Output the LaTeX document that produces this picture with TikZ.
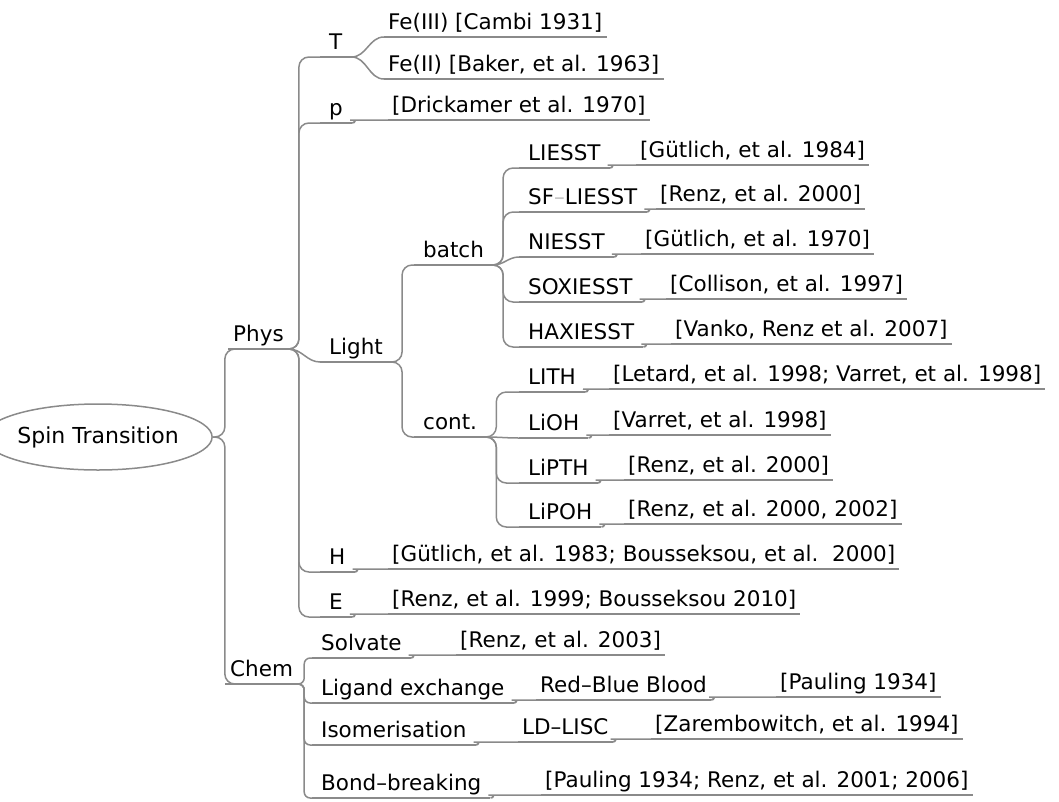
\documentclass[tikz,border=0pt]{standalone}
\usepackage{fontspec}
\setmainfont{DejaVu Sans}
\usepackage{tikz}
\usetikzlibrary{positioning, shapes}
\definecolor{linegray}{HTML}{8A8A8A}
\newcommand{\mapfont}{\fontsize{21.5}{25}\selectfont}

\begin{document}
\begin{tikzpicture}[x=1pt, y=-1pt,
        root/.style={ellipse, draw=linegray, line width=1.5pt, minimum width=180pt, minimum height=66pt, inner sep=0pt, font=\fontsize{22}{25}\selectfont},
        topic/.style={anchor=south west, inner xsep=5pt, inner ysep=1pt, text depth=6pt, font=\mapfont},
        sub/.style={topic, inner xsep=9pt},
        leaf/.style={topic, inner xsep=4pt},
        link/.style={draw=linegray, line width=1.5pt, rounded corners=10pt},
        uline/.style={draw=linegray, line width=1.5pt}
        ]
        \useasboundingbox (0,0) rectangle (1059,801);
        % Nodes
        \node [root] (st) at (98,437) {Spin Transition};
        \node [topic] (phys) at (228,349) {Phys};
        \node [topic] (chem) at (225,684) {Chem};

        \node [sub] (T) at (320,57) {T};
        \node [leaf] (feIII) at (384,37) {Fe(III) [Cambi 1931]};
        \node [leaf] (feII) at (384,79) {Fe(II) [Baker, et al. 1963]};
        \node [sub] (p) at (320,123) {p};
        \node [leaf] (pRef) at (388,120) {[Drickamer et al. 1970]};

        \node [sub] (light) at (320,362) {Light};
        \node [sub] (batch) at (414,265) {batch};
        \node [sub] (liesst) at (519,168) {LIESST};
        \node [leaf] (liesstRef) at (636,165) {[Gütlich, et al. 1984]};
        \node [sub] (sfl) at (519,212) {SF{\color{black!25}--}LIESST};
        \node [leaf] (sflRef) at (656,209) {[Renz, et al. 2000]};
        \node [sub] (niesst) at (519,257) {NIESST};
        \node [leaf] (niesstRef) at (641,254) {[Gütlich, et al. 1970]};
        \node [sub] (soxi) at (519,302) {SOXIESST};
        \node [leaf] (soxiRef) at (666,299) {[Collison, et al. 1997]};
        \node [sub] (haxi) at (519,347) {HAXIESST};
        \node [leaf] (haxiRef) at (671,344) {[Vanko, Renz et al. 2007]};

        \node [sub] (cont) at (414,437) {cont.};
        \node [sub] (lith) at (519,392) {LITH};
        \node [leaf] (lithRef) at (609,389) {[Letard, et al. 1998; Varret, et al. 1998]};
        \node [sub] (lioh) at (519,438) {LiOH};
        \node [leaf] (liohRef) at (609,435) {[Varret, et al. 1998]};
        \node [sub] (lipth) at (519,483) {LiPTH};
        \node [leaf] (lipthRef) at (624,480) {[Renz, et al. 2000]};
        \node [sub] (lipoh) at (519,527) {LiPOH};
        \node [leaf] (lipohRef) at (624,524) {[Renz, et al. 2000, 2002]};

        \node [sub] (H) at (320,572) {H};
        \node [leaf] (HRef) at (388,569) {[Gütlich, et al. 1983; Bousseksou, et al.\ \ 2000]};
        \node [sub] (E) at (320,617) {E};
        \node [leaf] (ERef) at (388,614) {[Renz, et al. 1999; Bousseksou 2010]};

        \node [sub] (solv) at (312,658) {Solvate};
        \node [leaf] (solvRef) at (456,655) {[Renz, et al. 2003]};
        \node [sub] (lig) at (312,703) {Ligand exchange};
        \node [leaf] (rbb) at (536,700) {Red--Blue Blood};
        \node [leaf] (rbbRef) at (776,697) {[Pauling 1934]};
        \node [sub] (iso) at (312,745) {Isomerisation};
        \node [leaf] (ldlisc) at (518,742) {LD--LISC};
        \node [leaf] (ldliscRef) at (651,739) {[Zarembowitch, et al. 1994]};
        \node [sub] (bond) at (312,798) {Bond--breaking};
        \node [leaf] (bondRef) at (541,795) {[Pauling 1934; Renz, et al. 2001; 2006]};

        % Underlines
        \foreach \n in {phys, chem, T, feIII, feII, p, pRef, light, batch, liesst, liesstRef,
                sfl, sflRef, niesst, niesstRef, soxi, soxiRef, haxi, haxiRef, cont, lith, lithRef,
                lioh, liohRef, lipth, lipthRef, lipoh, lipohRef, H, HRef, E, ERef, solv, solvRef,
                lig, rbb, rbbRef, iso, ldlisc, ldliscRef, bond, bondRef}
            \draw[uline] (\n.south west) -- (\n.south east);

        % Branches
        \draw[link] (st.east) -- ++(12,0) |- (phys.south west);
        \draw[link] (st.east) -- ++(12,0) |- (chem.south west);

        \draw[link] (phys.south east) -- ++(10,0) |- (T.south west);
        \draw[link] (phys.south east) -- ++(10,0) |- (p.south west);
        \draw[link] (phys.south east) to[out=0,in=180] (light.south west);
        \draw[link] (phys.south east) -- ++(10,0) |- (H.south west);
        \draw[link] (phys.south east) -- ++(10,0) |- (E.south west);

        \draw[link] (T.south east) to[out=0,in=180] (feIII.south west);
        \draw[link] (T.south east) to[out=0,in=180] (feII.south west);

        \draw[link] (light.south east) -- ++(10,0) |- (batch.south west);
        \draw[link] (light.south east) -- ++(10,0) |- (cont.south west);

        \draw[link] (batch.south east) -- ++(10,0) |- (liesst.south west);
        \draw[link] (batch.south east) -- ++(10,0) |- (sfl.south west);
        \draw[link] (batch.south east) to[out=0,in=180] (niesst.south west);
        \draw[link] (batch.south east) -- ++(10,0) |- (soxi.south west);
        \draw[link] (batch.south east) -- ++(10,0) |- (haxi.south west);

        \draw[link] (cont.south east) -- ++(10,0) |- (lith.south west);
        \draw[link] (cont.south east) to[out=0,in=180] (lioh.south west);
        \draw[link] (cont.south east) -- ++(10,0) |- (lipth.south west);
        \draw[link] (cont.south east) -- ++(10,0) |- (lipoh.south west);

        \draw[link, rounded corners=6pt] (chem.south east) -- ++(6,0) |- (solv.south west);
        \draw[link, rounded corners=6pt] (chem.south east) -- ++(6,0) |- (lig.south west);
        \draw[link, rounded corners=6pt] (chem.south east) -- ++(6,0) |- (iso.south west);
        \draw[link, rounded corners=6pt] (chem.south east) -- ++(6,0) |- (bond.south west);

        % Steps to references
        \draw[link] (p.south east) to[out=0,in=180] ++(8,-3) -- (pRef.south west);
        \draw[link] (liesst.south east) to[out=0,in=180] ++(8,-3) -- (liesstRef.south west);
        \draw[link] (sfl.south east) to[out=0,in=180] ++(8,-3) -- (sflRef.south west);
        \draw[link] (niesst.south east) to[out=0,in=180] ++(8,-3) -- (niesstRef.south west);
        \draw[link] (soxi.south east) to[out=0,in=180] ++(8,-3) -- (soxiRef.south west);
        \draw[link] (haxi.south east) to[out=0,in=180] ++(8,-3) -- (haxiRef.south west);
        \draw[link] (lith.south east) to[out=0,in=180] ++(8,-3) -- (lithRef.south west);
        \draw[link] (lioh.south east) to[out=0,in=180] ++(8,-3) -- (liohRef.south west);
        \draw[link] (lipth.south east) to[out=0,in=180] ++(8,-3) -- (lipthRef.south west);
        \draw[link] (lipoh.south east) to[out=0,in=180] ++(8,-3) -- (lipohRef.south west);
        \draw[link] (H.south east) to[out=0,in=180] ++(8,-3) -- (HRef.south west);
        \draw[link] (E.south east) to[out=0,in=180] ++(8,-3) -- (ERef.south west);
        \draw[link] (solv.south east) to[out=0,in=180] ++(8,-3) -- (solvRef.south west);
        \draw[link] (lig.south east) to[out=0,in=180] ++(8,-3) -- (rbb.south west);
        \draw[link] (rbb.south east) to[out=0,in=180] ++(8,-3) -- (rbbRef.south west);
        \draw[link] (iso.south east) to[out=0,in=180] ++(8,-3) -- (ldlisc.south west);
        \draw[link] (ldlisc.south east) to[out=0,in=180] ++(8,-3) -- (ldliscRef.south west);
        \draw[link] (bond.south east) to[out=0,in=180] ++(8,-3) -- (bondRef.south west);
    \end{tikzpicture}
\end{document}
